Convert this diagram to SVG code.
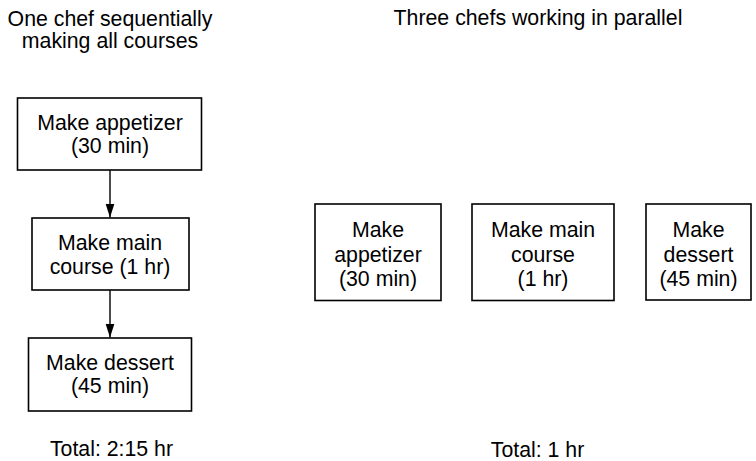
<svg xmlns="http://www.w3.org/2000/svg" width="756" height="461" viewBox="0 0 756 461">
<style>
text{font-family:"Liberation Sans",Arial,sans-serif;font-size:21.3px;fill:#000;text-anchor:middle}
.box{fill:#fff;stroke:#000;stroke-width:1.6}
.conn{stroke:#000;stroke-width:1.4;fill:none}
</style>
<defs>
<marker id="ah" viewBox="0 0 10 14" refX="10" refY="7" markerUnits="userSpaceOnUse" markerWidth="10" markerHeight="14" orient="auto">
<path d="M0,2 L10,7 L0,12 Z" fill="#000"/>
</marker>
<marker id="arr" viewBox="0 0 14 10" refX="14" refY="5" markerUnits="userSpaceOnUse" markerWidth="14" markerHeight="10" orient="auto">
<path d="M0,0.5 L14,5 L0,9.5 Z" fill="#000"/>
</marker>
</defs>
<rect width="756" height="461" fill="#fff"/>
<g id="titles">
<text x="110" y="26">One chef sequentially</text>
<text x="110" y="48">making all courses</text>
<text x="538" y="25">Three chefs working in parallel</text>
</g>
<g id="connectors">
<line class="conn" x1="110" y1="170" x2="110" y2="217.5" marker-end="url(#arr)"/>
<line class="conn" x1="110" y1="290" x2="110" y2="337.5" marker-end="url(#arr)"/>
</g>
<g id="seq-appetizer">
<rect class="box" x="17.5" y="98" width="184" height="72"/>
<text x="110" y="130">Make appetizer</text>
<text x="110" y="153">(30 min)</text>
</g>
<g id="seq-main">
<rect class="box" x="32" y="218" width="157" height="72"/>
<text x="110" y="250">Make main</text>
<text x="110" y="274">course (1 hr)</text>
</g>
<g id="seq-dessert">
<rect class="box" x="28.5" y="338" width="163" height="73"/>
<text x="110" y="370">Make dessert</text>
<text x="110" y="393">(45 min)</text>
</g>
<g id="par-appetizer">
<rect class="box" x="315" y="204" width="126" height="96.5"/>
<text x="378" y="237">Make</text>
<text x="378" y="261.5">appetizer</text>
<text x="378" y="285.5">(30 min)</text>
</g>
<g id="par-main">
<rect class="box" x="472" y="204" width="142" height="96.5"/>
<text x="543" y="237">Make main</text>
<text x="543" y="261.5">course</text>
<text x="543" y="285.5">(1 hr)</text>
</g>
<g id="par-dessert">
<rect class="box" x="646" y="204" width="105" height="96"/>
<text x="698.5" y="237">Make</text>
<text x="698.5" y="261.5">dessert</text>
<text x="698.5" y="285.5">(45 min)</text>
</g>
<g id="totals">
<text x="111.5" y="456">Total: 2:15 hr</text>
<text x="537.5" y="456.5">Total: 1 hr</text>
</g>
</svg>
